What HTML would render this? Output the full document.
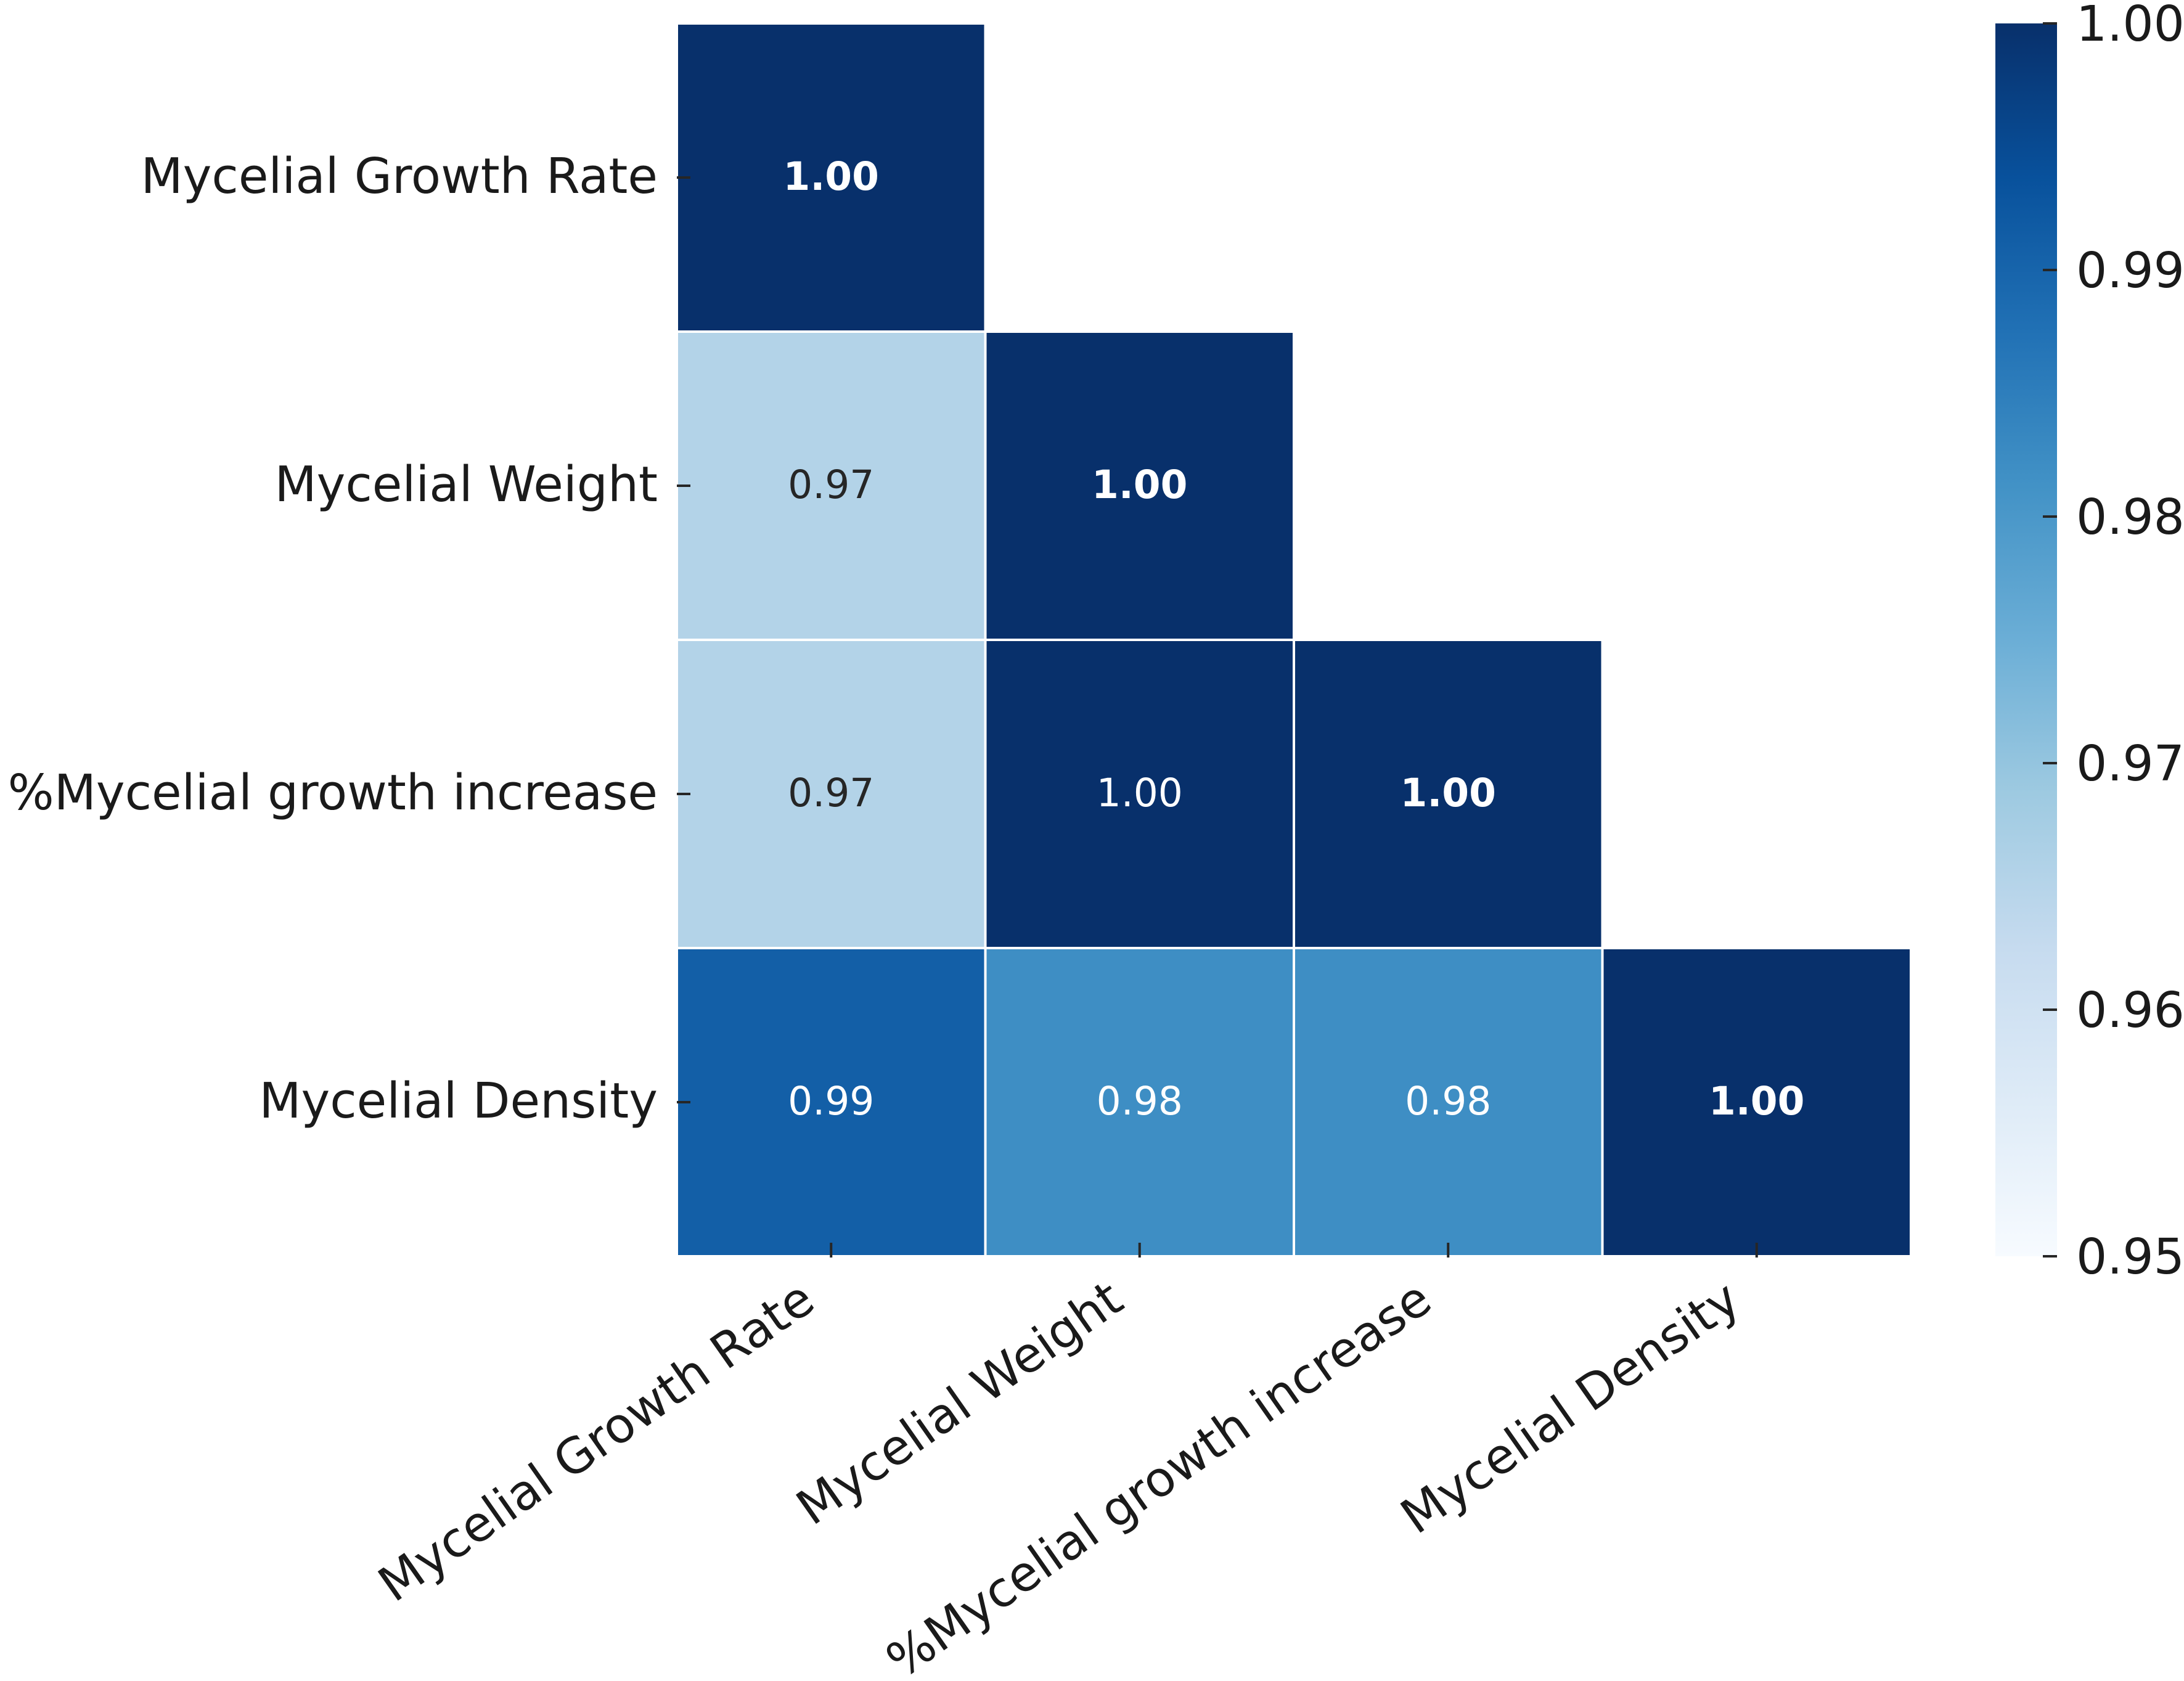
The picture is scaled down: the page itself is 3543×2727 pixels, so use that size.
<!DOCTYPE html>
<html><head><meta charset="utf-8"><style>
html,body{margin:0;padding:0;background:#fff;}
svg{display:block;font-family:"DejaVu Sans","Liberation Sans",sans-serif;}
</style></head><body>
<svg id="chart" width="3543" height="2727" viewBox="0 0 3543 2727" xmlns="http://www.w3.org/2000/svg">
<defs>
<linearGradient id="blues" x1="0" y1="1" x2="0" y2="0">
<stop offset="0" stop-color="#f7fbff"/><stop offset="0.125" stop-color="#deebf7"/><stop offset="0.25" stop-color="#c6dbef"/><stop offset="0.375" stop-color="#9ecae1"/><stop offset="0.5" stop-color="#6baed6"/><stop offset="0.625" stop-color="#4292c6"/><stop offset="0.75" stop-color="#2171b5"/><stop offset="0.875" stop-color="#08519c"/><stop offset="1" stop-color="#08306b"/>
</linearGradient>
</defs>
<g id="cells"></g>
<g id="labels"></g>
<rect x="3237" y="38" width="100" height="2000" fill="url(#blues)"/>
<g id="cbar"></g>
</svg>
<script>
const categories = ["Mycelial Growth Rate","Mycelial Weight","%Mycelial growth increase","Mycelial Density"];
const row0 = [1.00];
const row1 = [0.9655, 1.00];
const row2 = [0.9655, 1.00, 1.00];
const row3 = [0.991, 0.982, 0.982, 1.00];
const displayLabels = [["1.00"],["0.97","1.00"],["0.97","1.00","1.00"],["0.99","0.98","0.98","1.00"]];
const cbarTicks = [0.95,0.96,0.97,0.98,0.99,1.00];
const cbarTickLabels = ["0.95","0.96","0.97","0.98","0.99","1.00"];
const vmin = 0.95, vmax = 1.00;

const NS="http://www.w3.org/2000/svg";
const L=1098, T=38, W=2002, H=2000, n=categories.length, cw=W/n, ch=H/n;
const stops=["#f7fbff","#deebf7","#c6dbef","#9ecae1","#6baed6","#4292c6","#2171b5","#08519c","#08306b"];
function hex(h){return [1,3,5].map(i=>parseInt(h.substr(i,2),16));}
function color(v){let t=Math.max(0,Math.min(1,(v-vmin)/(vmax-vmin)))*8;let i=Math.min(7,Math.floor(t)),f=t-i;const a=hex(stops[i]),b=hex(stops[i+1]);return "rgb("+a.map((x,k)=>Math.round(x+(b[k]-x)*f)).join(",")+")";}
function lum(v){return Math.max(0,Math.min(1,(v-vmin)/(vmax-vmin)));}
const xPos=j=>L+j*cw, yPos=i=>T+i*ch, cbY=v=>T+H*(1-(v-vmin)/(vmax-vmin));
const rows=[row0,row1,row2,row3];
const cells=document.getElementById('cells'), labels=document.getElementById('labels'), cbar=document.getElementById('cbar');
function mk(tag,attrs,parent,text){const e=document.createElementNS(NS,tag);for(const k in attrs)e.setAttribute(k,attrs[k]);if(text!==undefined)e.textContent=text;parent.appendChild(e);return e;}
rows.forEach((r,i)=>{r.forEach((v,j)=>{
  const rc=mk('rect',{x:xPos(j),y:yPos(i),width:cw,height:ch,fill:color(v),stroke:'#fff','stroke-width':4},cells);
  
  
  const diag=i===j;
  const tx=mk('text',{x:xPos(j)+cw/2,y:yPos(i)+ch/2+20,'text-anchor':'middle','font-size':63,'font-weight':diag?'bold':'normal',fill:lum(v)>0.45?'#ffffff':'#262626'},cells,displayLabels[i][j]);
  
  
});});
categories.forEach((c,i)=>{
  const cy=yPos(i)+ch/2;
  const tk=mk('line',{x1:L,x2:L+22,y1:cy,y2:cy,stroke:'#262626','stroke-width':4},labels);
  
  
  const yl=mk('text',{x:1067,y:cy+25,'text-anchor':'end','font-size':79,fill:'#1a1a1a'},labels,c);
  
  
  const cx=xPos(i)+cw/2;
  const xt=mk('line',{x1:cx,x2:cx,y1:T+H-22,y2:T+H+2,stroke:'#262626','stroke-width':4},labels);
  
  
  const px=cx-22, py=2120;
  const xl=mk('text',{x:px,y:py,'text-anchor':'end','font-size':79,fill:'#1a1a1a',transform:'rotate(-35 '+px+' '+py+')'},labels,c);
  
  
});
cbarTicks.forEach((v,k)=>{
  const y=cbY(v);
  const t=mk('line',{x1:3314,x2:3337,y1:y,y2:y,stroke:'#262626','stroke-width':4},cbar);
  
  
  const l=mk('text',{x:3368,y:y+28,'font-size':79,fill:'#1a1a1a'},cbar,cbarTickLabels[k]);
  
  
});
</script>
</body></html>
